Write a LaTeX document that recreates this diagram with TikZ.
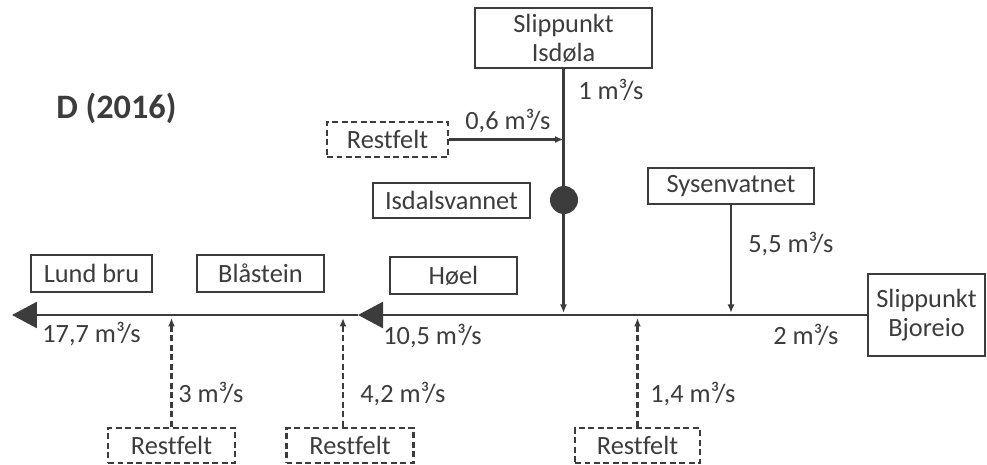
\documentclass[tikz,border=0pt]{standalone}
\usepackage{fontspec}
\setmainfont{Carlito}[Ligatures=NoCommon]
\usetikzlibrary{arrows.meta,positioning,calc}
\definecolor{ink}{HTML}{3C3C3C}
\tikzset{
  station/.style args={#1,#2}{
  draw=ink,
  line width=1.2pt,
  text=ink,
  align=center,
  inner sep=0pt,
  font=\fontsize{15}{16.5}\selectfont,
  minimum width=#1 cm,
  minimum height=#2 cm,
  },
  restbox/.style args={#1,#2}{
  station={#1,#2},
  line width=1.3pt,
  dash pattern=on 3.4pt off 2pt,
  },
  rate/.style={text=ink,inner sep=0pt,anchor=base west,font=\fontsize{15}{16.5}\selectfont},
  river/.style={draw=ink,line width=1.5pt,-{Triangle[length=0.5cm,width=0.52cm]}},
  inflow/.style={draw=ink,line width=1.3pt,-{Latex[length=0.17cm,width=0.14cm]}},
  seep/.style={inflow,line width=1.3pt,dash pattern=on 3.4pt off 2pt},
  dam/.style={circle,fill=ink,inner sep=0pt,minimum size=0.56cm}
}

\begin{document}
\begin{tikzpicture}[x=0.02cm,y=-0.02cm]
  \useasboundingbox (0,0) rectangle (987,465);

  % stations and lakes
  \node [station={3.54,1.2}] (isd) at (563.5,38) {Slippunkt\\Isdøla};
  \node [station={2.34,1.64}] (bjo) at (926.5,315) {Slippunkt\\Bjoreio};
  \node [station={2.42,0.74}] (lund) at (91.5,273.5) {Lund bru};
  \node [station={2.54,0.74}] (bla) at (260.5,273.5) {Blåstein};
  \node [station={2.54,0.74}] (hoelbox) at (453.5,275.5) {Høel};
  \node [station={3.14,0.7}] (isdvann) at (451.5,200.5) {Isdalsvannet};
  \node [station={3.32,0.72}] (sys) at (731,186) {Sysenvatnet};
  \node [restbox={2.42,0.7}] (rf0) at (387.5,139.5) {Restfelt};
  \node [restbox={2.54,0.7}] (rf1) at (171.5,445.5) {Restfelt};
  \node [restbox={2.54,0.7}] (rf2) at (350,445.5) {Restfelt};
  \node [restbox={2.5,0.7}] (rf3) at (637.5,445.5) {Restfelt};

  \node [text=ink,anchor=base west,inner sep=0pt,font=\fontsize{19.5}{21}\bfseries] (title) at (56,119) {D (2016)};

  \coordinate (outlet) at (12,315);
  \coordinate (hoel) at (358,315);

  % main river
  \draw [river] (bjo.west) -- (hoel);
  \draw [river] (hoel) -- (outlet);

  % inflows from above
  \draw [inflow] (isd.south) -- (isd.south |- 0,313);
  \draw [inflow] (rf0.east) -- (rf0.east -| isd.south);
  \draw [inflow] (sys.south) -- (sys.south |- 0,313);
  \node [dam] (dammen) at (564,200) {};

  % inflows from below
  \draw [seep] (rf1.north) -- (rf1.north |- 0,318);
  \draw [seep] ([xshift=-0.14cm]rf2.north) -- ([xshift=-0.14cm]rf2.north |- 0,318);
  \draw [seep] (rf3.north) -- (rf3.north |- 0,318);

  % rates
  \node [rate] (q1) at (578,100) {1 m³/s};
  \node [rate] (q06) at (465,130) {0,6 m³/s};
  \node [rate] (q55) at (748,253) {5,5 m³/s};
  \node [rate] (q2) at (773,345) {2 m³/s};
  \node [rate] (q105) at (383,345) {10,5 m³/s};
  \node [rate] (q177) at (42,343) {17,7 m³/s};
  \node [rate] (q3) at (178,403) {3 m³/s};
  \node [rate] (q42) at (360,403) {4,2 m³/s};
  \node [rate] (q14) at (650,403) {1,4 m³/s};
\end{tikzpicture}
\end{document}
